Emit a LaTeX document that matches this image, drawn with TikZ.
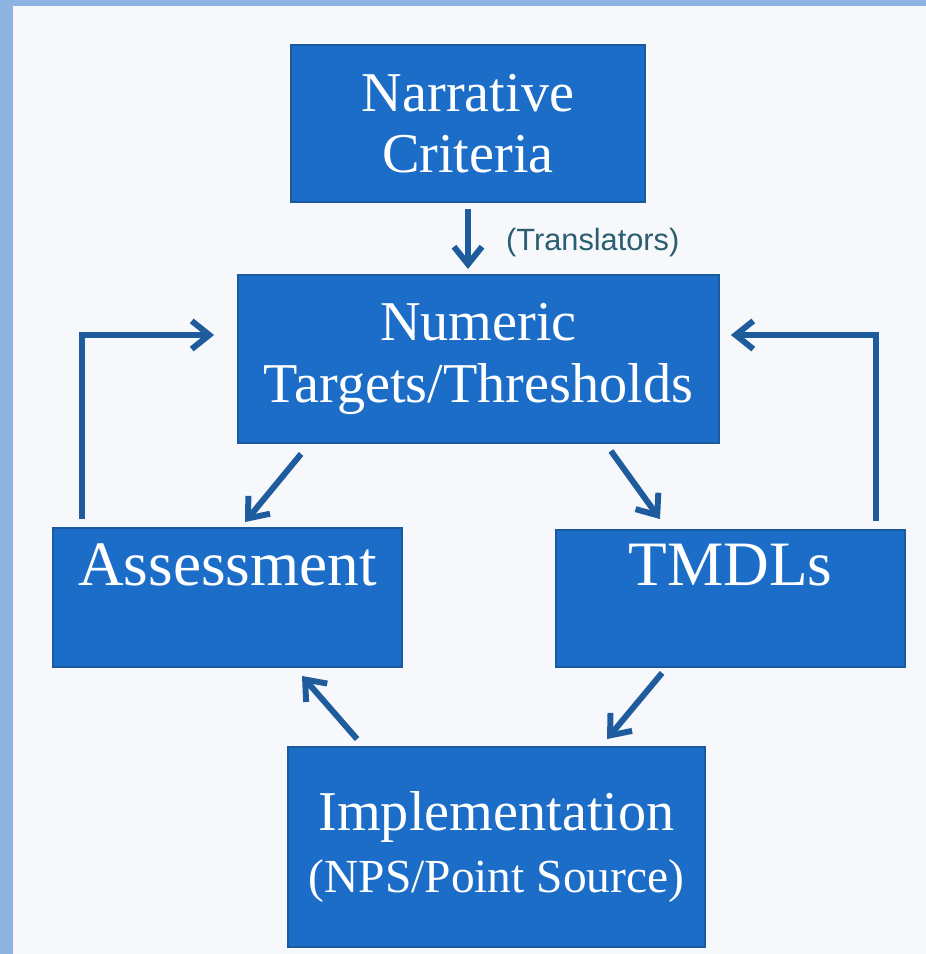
\documentclass[tikz,border=0pt]{standalone}
\usepackage{fontspec}
\setmainfont{Liberation Serif}
\newfontfamily\labelfont{Liberation Sans}
\usetikzlibrary{arrows.meta}
\definecolor{boxblue}{HTML}{1C6DC7}
\definecolor{boxedge}{HTML}{1A5A9E}
\definecolor{arrowblue}{HTML}{1F5C9E}
\definecolor{pagebg}{HTML}{F6F8FB}
\definecolor{stripblue}{HTML}{8DB3E2}
\definecolor{labelteal}{HTML}{2A5E70}
\begin{document}
\begin{tikzpicture}[x=0.02cm,y=-0.02cm,
	stepbox/.style={draw=boxedge,line width=1.1pt,fill=boxblue,text=white,align=center,inner sep=0pt,font=\fontsize{32}{35}\selectfont},
	flow/.style={draw=arrowblue,line width=3.4pt,-{Straight Barb[length=10pt,width=16pt]}}]
	\fill [pagebg](0,0) rectangle (926,954);
	\fill [stripblue](0,0) rectangle (13,954);
	\fill [stripblue](0,0) rectangle (926,6);
	\useasboundingbox (0,0) rectangle (926,954);

	\node [stepbox,minimum width=7.08cm,minimum height=3.14cm] (narr) at (468,123.5) {Narrative\\Criteria};
	\node [stepbox,minimum width=9.62cm,minimum height=3.36cm] (num) at (478.5,359) {Numeric\\Targets/Thresholds};
	\node [stepbox,minimum width=6.98cm,minimum height=2.78cm,font=\fontsize{36}{38}\selectfont] (assess) at (227.5,597.5) {Assessment\\\mbox{}};
	\node [stepbox,minimum width=6.98cm,minimum height=2.74cm,font=\fontsize{36}{38}\selectfont] (tmdl) at (730.5,598.5) {TMDLs\\\mbox{}};
	\node [stepbox,minimum width=8.34cm,minimum height=4.0cm] (impl) at (496.5,847) {Implementation\\{\fontsize{27}{34}\selectfont(NPS/Point Source)}};
	\node [text=labelteal,anchor=west,font=\labelfont\fontsize{17.5}{20}\selectfont] (trans) at (500,243) {(Translators)};

	\draw [flow]([shift={(0,6)}]narr.south) -- ([shift={(-10.5,-5)}]num.north);
	\draw [flow]([shift={(64,10)}]num.south west) -- ([shift={(17.5,-5)}]assess.north);
	\draw [flow]([shift={(-109,7)}]num.south east) -- ([shift={(-70.5,-10)}]tmdl.north);
	\draw [flow]([shift={(107,5)}]tmdl.south west) -- ([shift={(110.5,-7)}]impl.north);
	\draw [flow]([shift={(70,-7)}]impl.north west) -- ([shift={(74.5,8)}]assess.south);
	% feedback loops back up to the targets
	\draw [flow]([shift={(30,-8)}]assess.north west) |- ([shift={(-23,-24)}]num.west);
	\draw [flow]([shift={(-30,-8)}]tmdl.north east) |- ([shift={(11,-24)}]num.east);
\end{tikzpicture}
\end{document}
